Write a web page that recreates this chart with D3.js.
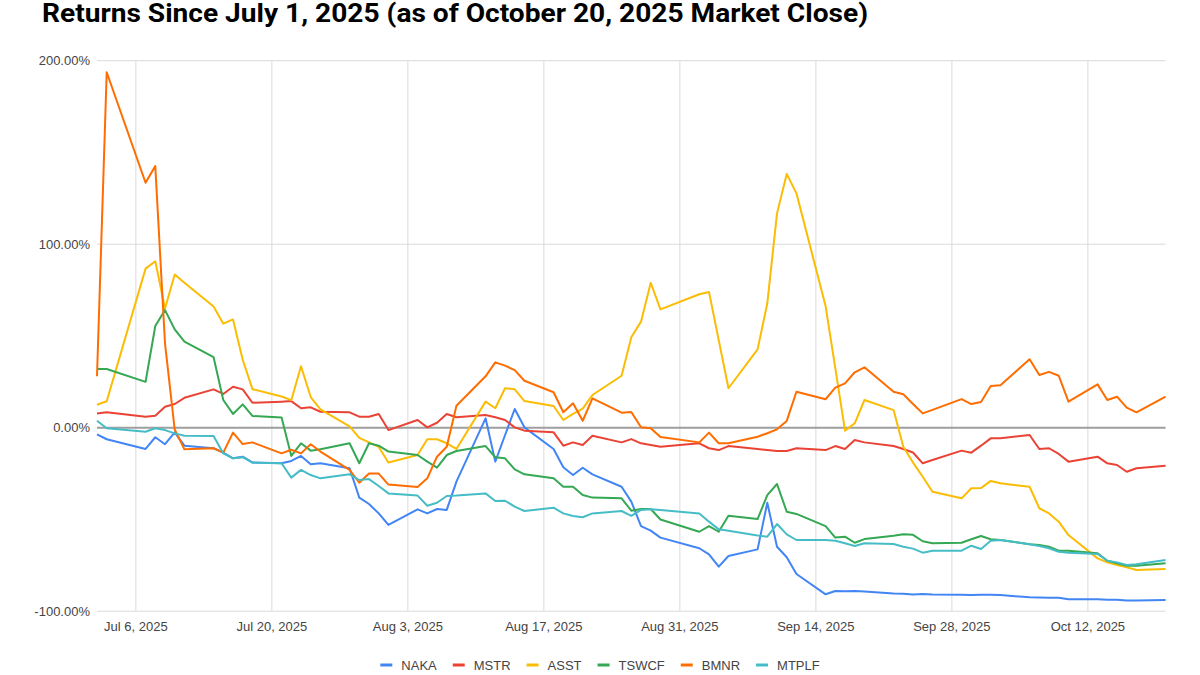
<!DOCTYPE html>
<html><head><meta charset="utf-8">
<script src="https://cdn.jsdelivr.net/npm/d3@7"></script>
<style>body{margin:0;background:#fff}</style>
</head><body><svg id="c" width="1200" height="675"></svg>
<script>
const dates = ["2025-07-02","2025-07-03","2025-07-07","2025-07-08","2025-07-09","2025-07-10","2025-07-11",
"2025-07-14","2025-07-15","2025-07-16","2025-07-17","2025-07-18","2025-07-21","2025-07-22","2025-07-23","2025-07-24","2025-07-25",
"2025-07-28","2025-07-29","2025-07-30","2025-07-31","2025-08-01","2025-08-04","2025-08-05","2025-08-06","2025-08-07","2025-08-08",
"2025-08-11","2025-08-12","2025-08-13","2025-08-14","2025-08-15","2025-08-18","2025-08-19","2025-08-20","2025-08-21","2025-08-22",
"2025-08-25","2025-08-26","2025-08-27","2025-08-28","2025-08-29","2025-09-02","2025-09-03","2025-09-04","2025-09-05",
"2025-09-08","2025-09-09","2025-09-10","2025-09-11","2025-09-12","2025-09-15","2025-09-16","2025-09-17","2025-09-18","2025-09-19",
"2025-09-22","2025-09-23","2025-09-24","2025-09-25","2025-09-26","2025-09-29","2025-09-30","2025-10-01","2025-10-02","2025-10-03",
"2025-10-06","2025-10-07","2025-10-08","2025-10-09","2025-10-10","2025-10-13","2025-10-14","2025-10-15","2025-10-16","2025-10-17","2025-10-20"];

const NAKA = [-3.6,-6.3,-11.6,-5.2,-9.0,-2.5,-9.8,
-11.2,-13.6,-16.7,-15.8,-18.9,-19.4,-18.1,-15.4,-19.9,-19.4,
-22.1,-38.1,-41.6,-46.7,-53.0,-44.5,-46.7,-44.3,-44.8,-29.4,
5.1,-18.5,-4.1,10.2,0.2,-11.6,-21.6,-25.8,-21.8,-25.4,
-32.2,-40.3,-53.6,-56.1,-59.9,-65.7,-69.0,-75.7,-69.9,
-66.3,-40.9,-64.9,-70.6,-79.7,-90.8,-89.0,-89.1,-89.0,-89.2,
-90.3,-90.5,-90.9,-90.6,-90.9,-91.0,-91.2,-91.1,-91.1,-91.2,
-92.4,-92.5,-92.7,-92.7,-93.5,-93.5,-93.7,-93.7,-94.2,-94.2,-93.9];

const MSTR = [7.8,8.4,6.0,6.5,11.4,12.9,16.3,
20.9,18.4,22.3,20.9,13.6,14.2,14.5,10.6,11.1,8.7,
8.4,6.0,6.0,7.5,-1.3,4.2,0.2,2.7,7.5,5.7,
6.9,5.7,4.2,0.2,-1.6,-2.5,-9.8,-8.0,-9.4,-4.4,
-8.0,-6.2,-8.5,-9.4,-10.4,-8.5,-11.2,-12.2,-10.0,
-11.6,-12.2,-12.7,-12.7,-11.2,-12.2,-10.0,-11.6,-6.7,-8.0,
-10.0,-11.6,-13.5,-19.4,-17.6,-12.5,-13.6,-9.8,-5.8,-5.8,
-4.0,-11.6,-11.2,-14.3,-18.5,-15.8,-19.4,-20.3,-24.0,-22.1,-20.7];

const ASST = [12.5,14.4,86.7,90.7,65.0,83.5,79.0,
66.0,56.7,59.0,37.0,21.0,17.0,15.0,33.5,16.7,10.0,
0.7,-5.5,-8.0,-10.5,-19.0,-14.9,-6.3,-6.3,-8.5,-11.6,
14.2,10.6,21.5,20.9,14.5,11.8,4.2,7.5,10.4,17.8,
28.3,49.3,57.8,79.0,64.5,72.7,74.0,47.7,21.5,
42.7,67.8,116.8,138.3,127.7,66.3,32.5,-1.6,2.4,15.1,
9.6,-10.4,-19.0,-26.7,-34.9,-38.5,-33.0,-32.9,-29.0,-30.3,
-32.2,-43.9,-46.7,-51.2,-58.5,-71.2,-73.4,-74.8,-76.1,-77.5,-77.0];

const TSWCF = [32.0,32.0,25.0,55.4,64.1,53.6,46.9,
38.4,15.1,7.5,12.7,6.4,5.6,-15.4,-8.5,-12.5,-11.8,
-8.5,-19.4,-8.5,-9.8,-13.0,-14.9,-18.5,-21.8,-14.9,-12.7,
-10.0,-16.1,-16.7,-22.7,-25.4,-27.6,-32.2,-32.2,-36.7,-38.1,
-38.5,-45.2,-44.3,-44.3,-50.0,-56.7,-53.6,-56.7,-48.0,
-49.8,-36.7,-30.7,-45.8,-47.0,-53.6,-59.9,-59.4,-62.7,-60.7,
-58.9,-58.1,-58.4,-61.9,-63.0,-62.7,-60.8,-59.0,-60.8,-61.2,
-63.5,-63.9,-64.9,-67.0,-67.0,-68.4,-72.5,-73.9,-75.2,-75.2,-73.9];

const BMNR = [28.0,193.7,133.5,142.6,46.0,-1.0,-11.8,
-11.2,-13.6,-2.7,-8.9,-8.0,-14.0,-12.0,-14.0,-9.0,-13.0,
-23.0,-30.0,-25.0,-25.0,-31.0,-32.3,-27.6,-15.8,-10.4,12.0,
28.0,35.6,33.8,31.4,25.6,19.3,8.4,13.3,3.8,16.0,
8.2,8.6,0.2,-0.3,-5.1,-8.0,-2.7,-8.5,-8.5,
-4.9,-3.0,-0.9,3.7,19.6,15.5,21.8,24.2,30.2,32.9,
19.6,18.2,12.9,7.8,9.7,15.6,12.9,14.0,22.7,23.1,
37.3,28.7,30.4,28.3,14.2,23.6,15.1,16.9,10.9,8.4,16.9];

const MTPLF = [3.8,-0.3,-2.2,-0.3,-1.3,-3.1,-4.4,
-4.5,-14.0,-16.7,-16.1,-19.1,-19.4,-27.2,-23.0,-25.8,-27.6,
-25.4,-28.5,-28.0,-31.8,-35.8,-37.0,-42.5,-40.9,-37.2,-37.0,
-35.8,-39.9,-39.8,-43.0,-45.4,-43.6,-46.7,-48.1,-48.8,-46.7,
-45.4,-48.0,-44.8,-44.5,-44.8,-46.7,-51.2,-55.4,-56.1,
-58.7,-59.4,-52.5,-58.1,-61.2,-61.2,-61.6,-63.0,-64.5,-63.0,
-63.4,-64.9,-65.9,-68.1,-67.1,-67.0,-64.3,-66.1,-61.6,-61.2,
-63.5,-64.5,-65.7,-67.6,-68.1,-68.8,-72.5,-73.4,-74.8,-74.4,-72.1];

const seriesNames = ["NAKA","MSTR","ASST","TSWCF","BMNR","MTPLF"];
const seriesValues = [NAKA, MSTR, ASST, TSWCF, BMNR, MTPLF];
const seriesColors = ["#4285F4","#EA4335","#FBBC04","#34A853","#FF6D01","#46BDC6"];
const yTicks = [-100, 0, 100, 200];
const xTickDates = ["2025-07-06","2025-07-20","2025-08-03","2025-08-17","2025-08-31","2025-09-14","2025-09-28","2025-10-12"];
const titleText = "Returns Since July 1, 2025 (as of October 20, 2025 Market Close)";

const svg = d3.select("#c");
svg.append("rect").attr("width",1200).attr("height",675).attr("fill","#fff");
const parse = d3.utcParse("%Y-%m-%d");
const xDates = dates.map(parse);

const x = d3.scaleUtc().domain([parse("2025-07-02"), parse("2025-10-20")]).range([97, 1165.6]);
const y = d3.scaleLinear().domain([-100, 200]).range([611.2, 60.7]);
const left = 97, right = 1165.6;

// title
svg.append("text").text(titleText)
  .attr("x", 42).attr("y", 21.5)
  .attr("font-family", "Roboto, 'Liberation Sans', Arial, sans-serif")
  .attr("font-weight", 700).attr("font-size", 25).attr("fill", "#000")
  .attr("textLength", 826).attr("lengthAdjust", "spacingAndGlyphs");

const labelFont = "'Liberation Sans', Arial, sans-serif";

// vertical grid
const xt = xTickDates.map(parse);
svg.append("g").selectAll("line").data(xt).join("line")
  .attr("x1", d => x(d)).attr("x2", d => x(d))
  .attr("y1", y(200)).attr("y2", y(-100))
  .attr("stroke", "#dadada").attr("stroke-width", 1);

// horizontal grid
svg.append("g").selectAll("line").data(yTicks.filter(v => v !== 0)).join("line")
  .attr("x1", left).attr("x2", right)
  .attr("y1", d => y(d)).attr("y2", d => y(d))
  .attr("stroke", "#dadada").attr("stroke-width", 1);

// y labels
svg.append("g").selectAll("text").data(yTicks).join("text")
  .attr("x", 90).attr("y", d => y(d) + 4.5)
  .attr("text-anchor", "end")
  .attr("font-family", labelFont).attr("font-size", 13).attr("fill", "#444")
  .text(d => d.toFixed(2) + "%");

// x labels
const fmt = d3.utcFormat("%b %-d, %Y");
svg.append("g").selectAll("text").data(xt).join("text")
  .attr("x", d => x(d)).attr("y", 630.5)
  .attr("text-anchor", "middle")
  .attr("font-family", labelFont).attr("font-size", 13).attr("fill", "#444")
  .text(d => fmt(d));

// zero line
svg.append("line").attr("x1", left).attr("x2", right)
  .attr("y1", y(0)).attr("y2", y(0))
  .attr("stroke", "#9e9e9e").attr("stroke-width", 2);

// series
const line = d3.line().x((d, i) => x(xDates[i])).y(d => y(d));
seriesValues.forEach((vals, k) => {
  svg.append("path").datum(vals)
    .attr("d", line)
    .attr("fill", "none")
    .attr("stroke", seriesColors[k])
    .attr("stroke-width", 2)
    .attr("stroke-linejoin", "round");
});

// legend
const lg = svg.append("g");
const items = seriesNames.map((n, k) => {
  const g = lg.append("g");
  g.append("line").attr("x1", 0).attr("x2", 12).attr("y1", 0).attr("y2", 0)
    .attr("stroke", seriesColors[k]).attr("stroke-width", 3);
  const t = g.append("text").attr("x", 21).attr("y", 4.5)
    .attr("font-family", labelFont).attr("font-size", 13).attr("fill", "#444").text(n);
  return {g, w: 21 + t.node().getComputedTextLength()};
});
const gap = 16;
const total = d3.sum(items, d => d.w) + gap * (items.length - 1);
let cx = 600 - total / 2;
items.forEach(it => { it.g.attr("transform", `translate(${cx},665)`); cx += it.w + gap; });
</script></body></html>
